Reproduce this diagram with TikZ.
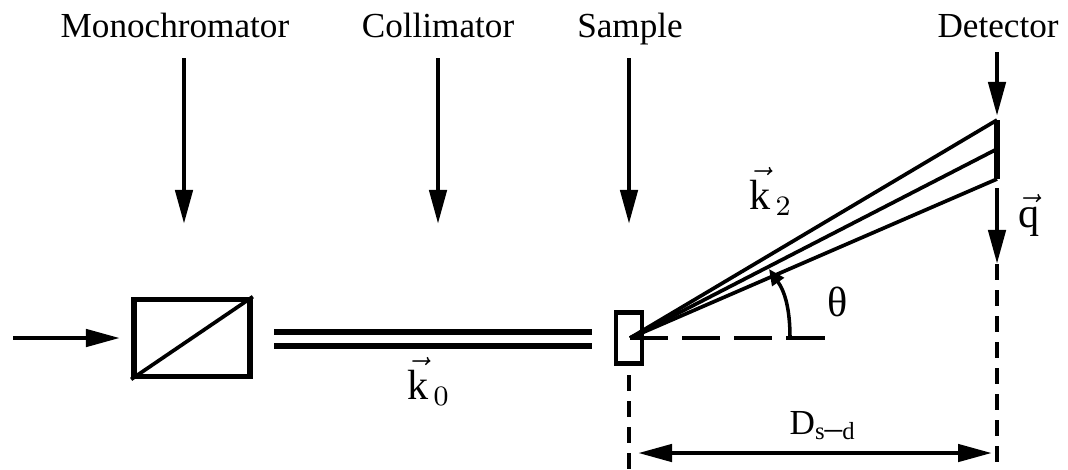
\documentclass[tikz,border=0pt]{standalone}
\usepackage{fontspec}
\setmainfont{Liberation Serif}
\usetikzlibrary{positioning}
\usetikzlibrary{arrows.meta}
\begin{document}
\begin{tikzpicture}[
        x=0.01cm, y=-0.01cm,
        >={Stealth[length=0.34cm,width=0.17cm,inset=0pt]},
        label/.style={inner sep=0pt, anchor=base, font=\fontsize{10}{12}\selectfont},
        veclabel/.style={label, font=\fontsize{12}{14}\selectfont},
        partbox/.style={rectangle, draw=black, line width=1.6pt, inner sep=0pt},
        axis/.style={line width=1.3pt},
        beam/.style={line width=1.5pt},
        ray/.style={line width=1.05pt},
        guide/.style={line width=1pt, dash pattern=on 0.16cm off 0.10cm}
    ]
    \useasboundingbox (0,0) rectangle (1068,469);

        \node [label] (Mono) at (175,37) {Monochromator};
        \node [label] (Coll) at (438,37) {Collimator};
        \node [label] (Samp) at (630,37) {Sample};
        \node [label] (Det) at (998,37) {Detector};

        \node [partbox, minimum width=1.16cm, minimum height=0.77cm] (MonoBox) at (192,338) {};
        \node [partbox, line width=1.3pt, minimum width=0.26cm, minimum height=0.51cm] (SampBox) at (629,338) {};

        \coordinate (MonoTop) at (184,58);
        \coordinate (MonoEnd) at (184,224);
        \coordinate (CollTop) at (438,58);
        \coordinate (CollEnd) at (438,224);
        \coordinate (SampTop) at (629,58);
        \coordinate (SampEnd) at (629,224);
        \coordinate (DetTop) at (997,52);
        \coordinate (DetEnd) at (997,116);
        \coordinate (In) at (13,338);
        \coordinate (InEnd) at (120,338);
        \coordinate (Origin) at (630,338);
        \coordinate (BarTop) at (997,120);
        \coordinate (BarMid) at (997,149);
        \coordinate (BarLow) at (997,179);
        \coordinate (QTop) at (997,188);
        \coordinate (QEnd) at (997,264);
        \coordinate (QFoot) at (997,469);
        \coordinate (SampFoot) at (629,469);
        \coordinate (SampDrop) at (629,375);
        \coordinate (ThetaEnd) at (825,338);
        \coordinate (Corner) at (790,338);
        \coordinate (ThetaTip) at (769,269);
        \coordinate (DistL) at (638,453);
        \coordinate (DistR) at (992,453);
        \coordinate (CollA) at (274,332);
        \coordinate (CollB) at (592,332);
        \coordinate (CollC) at (274,346);
        \coordinate (CollD) at (592,346);

        \draw [->, axis] (MonoTop) -- (MonoEnd);
        \draw [->, axis] (CollTop) -- (CollEnd);
        \draw [->, axis] (SampTop) -- (SampEnd);
        \draw [->, axis] (DetTop) -- (DetEnd);
        \draw [->, axis] (In) -- (InEnd);

        \draw [ray] (MonoBox.south west) -- (MonoBox.north east);

        \draw [beam] (CollA) -- (CollB);
        \draw [beam] (CollC) -- (CollD);

        \draw [ray] (Origin) -- (BarTop);
        \draw [ray] (Origin) -- (BarMid);
        \draw [ray] (Origin) -- (BarLow);
        \draw [line width=1.6pt] (BarTop) -- (BarLow);

        \draw [->, axis] (QTop) -- (QEnd);
        \draw [guide] (QEnd) -- (QFoot);
        \draw [guide, line width=0.9pt] (SampDrop) -- (SampFoot);

        \draw [line width=1pt, dash pattern=on 0.38cm off 0.14cm] (Origin) -- (Corner);
        \draw [line width=1pt] (Corner) -- (ThetaEnd);
        \draw [->, line width=1pt, >={Stealth[length=0.16cm,width=0.14cm,inset=0pt]}] (Corner) to [out=90, in=-55] (ThetaTip);

        \draw [<->, axis] (DistL) -- (DistR);

        \node [veclabel] (KZero) at (429,399) {$\vec{\mathrm{k}}_{\,0}$};
        \node [veclabel] (KTwo) at (771,209) {$\vec{\mathrm{k}}_{\,2}$};
        \node [veclabel] (QVec) at (1029,227) {$\vec{\mathrm{q}}$};
        \node [veclabel] (Theta) at (838,316) {θ};
        \node [label] (Dist) at (823,434) {D$_{\mathrm{s\mbox{--}d}}$};

    \end{tikzpicture}
\end{document}
